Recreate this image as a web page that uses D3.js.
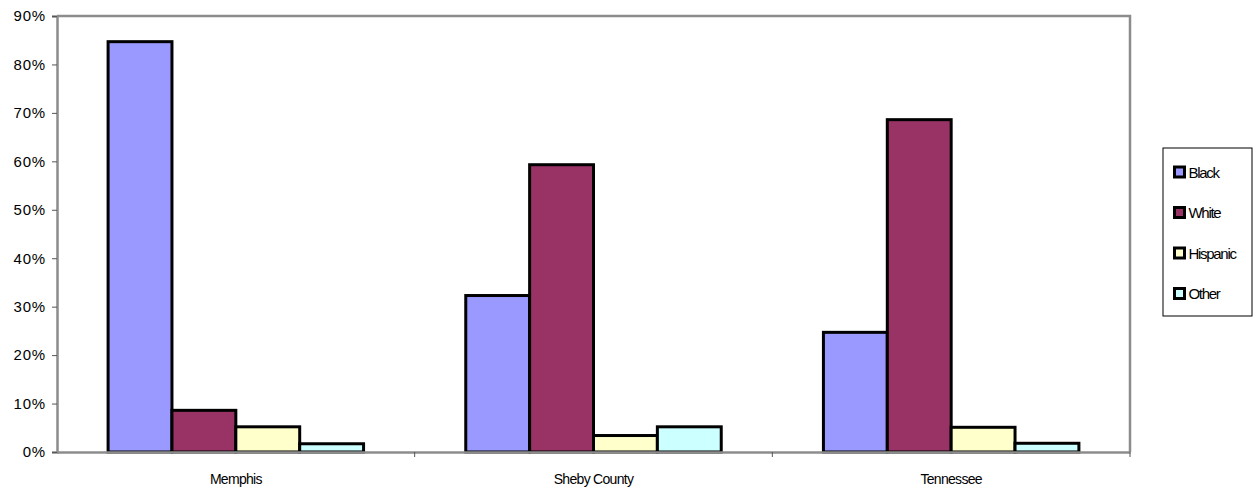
<!DOCTYPE html>
<html>
<head>
<meta charset="utf-8">
<script src="https://cdn.jsdelivr.net/npm/d3@7"></script>
<style>
  html, body { margin: 0; padding: 0; background: #fff; }
  svg { display: block; font-family: "Liberation Sans", Arial, sans-serif; }
</style>
</head>
<body>
<svg id="chart" width="1256" height="490"></svg>
<script>
// Population share by race / ethnicity
const categories = ["Memphis", "Sheby County", "Tennessee"];
const seriesNames = ["Black", "White", "Hispanic", "Other"];
const black    = [84.7, 32.3, 24.7];
const white    = [8.6, 59.3, 68.6];
const hispanic = [5.2, 3.4, 5.1];
const other    = [1.7, 5.2, 1.8];
const yTicks   = [0, 10, 20, 30, 40, 50, 60, 70, 80, 90];
const colors   = ["#9999FF", "#993366", "#FFFFCC", "#CCFFFF"];

const seriesValues = [black, white, hispanic, other];

const svg = d3.select("#chart");
const plot = { left: 57, right: 1130, top: 16, bottom: 452 };

const x0 = d3.scaleBand().domain(categories).range([plot.left, plot.right]).paddingInner(0).paddingOuter(0);
const x1 = d3.scaleBand().domain(seriesNames).range([0, x0.bandwidth()]).paddingInner(0).paddingOuter(0.8);
const y = d3.scaleLinear().domain([0, 90]).range([plot.bottom, plot.top]);
const color = d3.scaleOrdinal().domain(seriesNames).range(colors);

// plot frame (top and right)
svg.append("path")
  .attr("d", `M${plot.left},${plot.top}H${plot.right}V${plot.bottom}`)
  .attr("fill", "none").attr("stroke", "#8c8c8c").attr("stroke-width", 2.5);

// bars
const groups = svg.append("g").selectAll("g")
  .data(categories)
  .join("g")
  .attr("transform", d => `translate(${x0(d)},0)`);

groups.selectAll("rect")
  .data((c, i) => seriesNames.map((s, j) => ({ series: s, value: seriesValues[j][i] })))
  .join("rect")
  .attr("x", d => x1(d.series))
  .attr("width", x1.bandwidth())
  .attr("y", d => y(d.value))
  .attr("height", d => y(0) - y(d.value))
  .attr("fill", d => color(d.series))
  .attr("stroke", "#000")
  .attr("stroke-width", 3)
  .attr("stroke-linejoin", "miter");

// y axis
const yAxis = svg.append("g")
  .attr("transform", `translate(${plot.left},0)`)
  .call(d3.axisLeft(y).tickValues(yTicks).tickFormat(d => d + "%").tickSize(5).tickPadding(6));
yAxis.select(".domain").attr("stroke", "#8c8c8c").attr("stroke-width", 2.5);
yAxis.selectAll(".tick line").attr("stroke", "#555").attr("stroke-width", 1);
yAxis.selectAll("text").attr("font-size", 15).attr("fill", "#000")
  .attr("letter-spacing", "0.8px")
  .attr("font-family", "'Liberation Sans', Arial, sans-serif");

// x axis
const xAxis = svg.append("g")
  .attr("transform", `translate(0,${plot.bottom})`)
  .call(d3.axisBottom(x0).tickSize(0).tickPadding(22));
xAxis.select(".domain").attr("stroke", "#8c8c8c").attr("stroke-width", 2.5);
xAxis.selectAll("text").attr("font-size", 14).attr("fill", "#000")
  .attr("letter-spacing", "-0.7px")
  .attr("font-family", "'Liberation Sans', Arial, sans-serif");

// category separator ticks
svg.append("g").selectAll("line")
  .data(categories)
  .join("line")
  .attr("x1", d => x0(d) + x0.bandwidth()).attr("x2", d => x0(d) + x0.bandwidth())
  .attr("y1", plot.bottom).attr("y2", plot.bottom + 5)
  .attr("stroke", "#555").attr("stroke-width", 1);

// legend
const legend = svg.append("g").attr("transform", "translate(1163,148)");
legend.append("rect")
  .attr("width", 89).attr("height", 168)
  .attr("fill", "#fff").attr("stroke", "#000").attr("stroke-width", 1);
const items = legend.selectAll("g.item")
  .data(seriesNames)
  .join("g")
  .attr("class", "item")
  .attr("transform", (d, i) => `translate(11.5,${24 + i * 40.5})`);
items.append("rect")
  .attr("x", 0).attr("y", -5).attr("width", 10).attr("height", 10)
  .attr("fill", d => color(d)).attr("stroke", "#000").attr("stroke-width", 3);
items.append("text")
  .attr("x", 14).attr("y", 5.5)
  .attr("font-size", 15).attr("letter-spacing", "-1.3px")
  .text(d => d);
</script>
</body>
</html>
